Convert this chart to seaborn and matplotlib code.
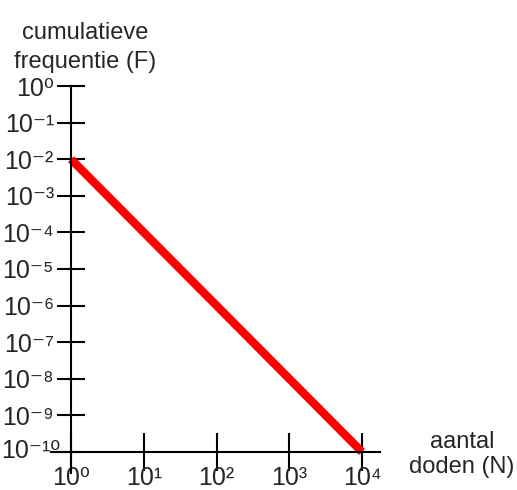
import numpy as np
import seaborn as sns
import matplotlib.pyplot as plt
from matplotlib import ticker
from matplotlib.transforms import ScaledTranslation

# data: F-N curve, cumulative frequency vs number of deaths
n_doden = [1, 1e4]
freq = [1e-2, 1e-10]
x_exponents = [0, 1, 2, 3, 4]
y_exponents = [0, -1, -2, -3, -4, -5, -6, -7, -8, -9, -10]

sns.set_style("white")
plt.rcParams["font.family"] = ["Liberation Sans", "DejaVu Sans"]

SUP = str.maketrans("0123456789-", "⁰¹²³⁴⁵⁶⁷⁸⁹⁻")


def pow10(val, pos):
    e = int(round(np.log10(val)))
    return "10" + str(e).translate(SUP)


fig = plt.figure(figsize=(5.17, 4.9), dpi=100)
ax = fig.add_axes([51 / 517, 17 / 490, 329 / 517, 387 / 490])
ax.set_xscale("log")
ax.set_yscale("log")

sns.lineplot(x=n_doden, y=freq, ax=ax, color="#ff0000", linewidth=6,
             solid_capstyle="butt")

ax.set_xlim(10 ** -0.275, 10 ** 4.247)
ax.set_ylim(10 ** -10.574, 1)

ax.spines["top"].set_visible(False)
ax.spines["right"].set_visible(False)
ax.spines["left"].set_position(("data", 1))
ax.spines["bottom"].set_position(("data", 1e-10))
for s in ("left", "bottom"):
    ax.spines[s].set_linewidth(1.5)
    ax.spines[s].set_color("black")

ax.xaxis.set_major_locator(ticker.FixedLocator([10.0 ** e for e in x_exponents]))
ax.yaxis.set_major_locator(ticker.FixedLocator([10.0 ** e for e in y_exponents]))
ax.xaxis.set_minor_locator(ticker.NullLocator())
ax.yaxis.set_minor_locator(ticker.NullLocator())
ax.xaxis.set_major_formatter(ticker.FuncFormatter(pow10))
ax.yaxis.set_major_formatter(ticker.FuncFormatter(pow10))

ax.tick_params(axis="y", left=True, direction="inout", length=19.5,
               width=1.5, pad=2.5, labelsize=18, color="black")
ax.tick_params(axis="x", bottom=True, direction="inout", length=28,
               width=1.5, pad=-4, labelsize=18, color="black")

ax.set_ylabel("cumulatieve\nfrequentie (F)", rotation=0, fontsize=17,
              ha="center", va="baseline", multialignment="center",
              linespacing=1.42)
ax.yaxis.set_label_coords((85 - 51) / 329, (473 - 61) / 387)
ax.set_xlabel("aantal\ndoden (N)", fontsize=17, ha="center", va="baseline",
              multialignment="center", linespacing=1.2)
ax.xaxis.set_label_coords((462 - 51) / 329, 0)

# the 10^-10 label sits a little to the right and above, next to the x axis
fig.canvas.draw()
for tick in ax.yaxis.get_major_ticks():
    if tick.get_loc() < 1e-9:
        lbl = tick.label1
        lbl.set_transform(lbl.get_transform()
                          + ScaledTranslation(6 / 100, 3 / 100, fig.dpi_scale_trans))

fig.savefig("out.png", dpi=100)
